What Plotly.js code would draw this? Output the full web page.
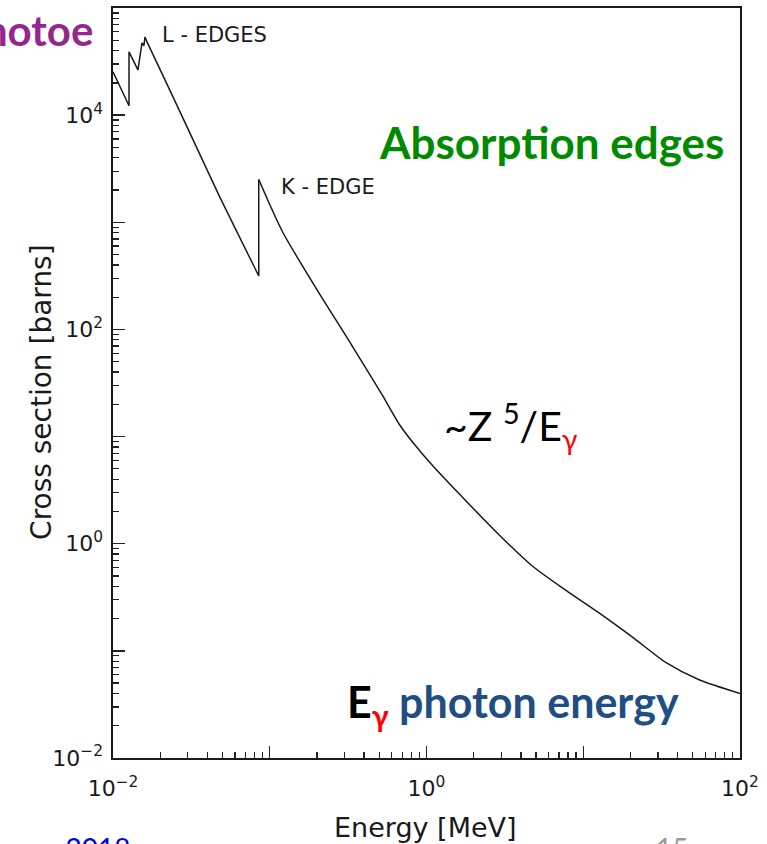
<!DOCTYPE html>
<html>
<head>
<meta charset="utf-8">
<script src="https://cdn.plot.ly/plotly-3.0.1.min.js"></script>
<style>
html,body{margin:0;padding:0;background:#fff;}
#chart{width:767px;height:844px;}
</style>
</head>
<body>
<div id="chart"></div>
<script>
// Photoelectric cross section: L-edge region up to the K-edge jump
const energyBelowK = [0.01, 0.01265, 0.01265, 0.01443, 0.01531, 0.01575, 0.0160, 0.01648, 0.02377, 0.0481, 0.0851, 0.0851];
const sigmaBelowK  = [25400, 12240, 39000, 26500, 47200, 44400, 53700, 48300, 15520, 1710, 315, 2510];
// above the K-edge (smooth part)
const energyAboveK = [0.0851, 0.1211, 0.199, 0.3234, 0.525, 0.673, 0.839, 1.092, 1.80, 2.92, 4.73, 7.80, 12.6, 20.5, 33.8, 54.8, 100];
const sigmaAboveK  = [2510, 807, 238, 76.6, 24.1, 12.9, 8.43, 5.37, 2.48, 1.20, 0.62, 0.365, 0.226, 0.135, 0.0776, 0.0537, 0.04];

const xTickVals = [0.01, 1, 100];
const xTickText = ['10<sup>−2</sup>', '10<sup>0</sup>', '10<sup>2</sup>'];
const yTickVals = [0.01, 1, 100, 10000];
const yTickText = ['10<sup>−2</sup>', '10<sup>0</sup>', '10<sup>2</sup>', '10<sup>4</sup>'];
const xDecades = [0.01, 0.1, 1, 10, 100];
const yDecades = [0.01, 0.1, 1, 10, 100, 1000, 10000, 100000];
const xTitle = 'Energy [MeV]';
const yTitle = 'Cross section [barns]';

function minorTicks(lo, hi) {
  const out = [];
  for (let d = lo; d < hi; d++) {
    for (let m = 2; m <= 9; m++) out.push(m * Math.pow(10, d));
  }
  return out;
}
const xMinor = minorTicks(-2, 2);
const yMinor = minorTicks(-2, 5);

const FONT = 'DejaVu Sans, Liberation Sans, sans-serif';
const INK = '#1a1a1a';
const traces = [
  {x: energyBelowK, y: sigmaBelowK, type: 'scatter', mode: 'lines',
   line: {color: INK, width: 1.5}, hoverinfo: 'skip', showlegend: false},
  {x: energyAboveK, y: sigmaAboveK, type: 'scatter', mode: 'lines',
   line: {color: INK, width: 1.5, shape: 'spline', smoothing: 0.7}, hoverinfo: 'skip', showlegend: false},
  // invisible traces carrying the extra tick axes
  {x: [0.01], y: [1], xaxis: 'x2', yaxis: 'y2', mode: 'markers', marker: {opacity: 0}, showlegend: false, hoverinfo: 'skip'},
  {x: [0.01], y: [1], xaxis: 'x3', yaxis: 'y3', mode: 'markers', marker: {opacity: 0}, showlegend: false, hoverinfo: 'skip'}
];

const xr = [-2, 2], yr = [-2, 5];
const tickAxis = (vals, len, range, extra) => Object.assign({
  type: 'log', range: range, tickmode: 'array', tickvals: vals, ticks: 'inside',
  ticklen: len, tickwidth: 1.3, tickcolor: '#222', showticklabels: false,
  showgrid: false, zeroline: false, showline: false, fixedrange: true
}, extra);

const layout = {
  width: 767, height: 844,
  margin: {l: 113, r: 27, t: 8, b: 86},
  paper_bgcolor: '#fff', plot_bgcolor: '#fff',
  font: {family: FONT, color: INK},
  xaxis: {
    type: 'log', range: xr, tickmode: 'array', tickvals: xTickVals, ticktext: xTickText,
    ticks: '', ticklabelstandoff: 10, showgrid: false, zeroline: false,
    showline: true, linecolor: INK, linewidth: 1.6, mirror: true,
    tickfont: {size: 22, family: FONT, color: INK}
  },
  yaxis: {
    type: 'log', range: yr, tickmode: 'array', tickvals: yTickVals, ticktext: yTickText,
    ticks: '', ticklabelstandoff: 4, showgrid: false, zeroline: false,
    showline: true, linecolor: INK, linewidth: 1.6, mirror: true,
    tickfont: {size: 22, family: FONT, color: INK}
  },
  xaxis2: tickAxis(xDecades, 12, xr, {overlaying: 'x', anchor: 'y2'}),
  yaxis2: tickAxis(yDecades, 12, yr, {overlaying: 'y', anchor: 'x2'}),
  xaxis3: tickAxis(xMinor, 6, xr, {overlaying: 'x', anchor: 'y3'}),
  yaxis3: tickAxis(yMinor, 6, yr, {overlaying: 'y', anchor: 'x3'}),
  annotations: [
    // axis titles
    {xref: 'paper', yref: 'paper', x: 0.498, y: -0.093, xanchor: 'center', yanchor: 'middle', showarrow: false,
     text: xTitle, font: {size: 27, family: FONT, color: INK}},
    {xref: 'paper', yref: 'paper', x: -0.115, y: 0.488, xanchor: 'center', yanchor: 'middle', showarrow: false,
     textangle: -90, text: yTitle, font: {size: 28, family: FONT, color: INK}},
    // plot labels
    {xref: 'paper', yref: 'paper', x: 0.075, y: 0.964, xanchor: 'left', yanchor: 'middle', showarrow: false,
     text: 'L - EDGES', font: {size: 21, family: FONT, color: INK}},
    {xref: 'paper', yref: 'paper', x: 0.265, y: 0.761, xanchor: 'left', yanchor: 'middle', showarrow: false,
     text: 'K - EDGE', font: {size: 21, family: FONT, color: INK}},
    {xref: 'paper', yref: 'paper', x: 0.699, y: 0.821, xanchor: 'center', yanchor: 'middle', showarrow: false,
     text: '<b>Absorption edges</b>', font: {size: 44, family: 'Lato, sans-serif', color: '#008a00'}},
    {xref: 'paper', yref: 'paper', x: 0.525, y: 0.443, xanchor: 'left', yanchor: 'middle', showarrow: false,
     text: '~Z <sup>5</sup>/E<sub><span style="color:#ff0000">γ</span></sub>', font: {size: 41, family: 'Lato, sans-serif', color: '#000'}},
    {xref: 'paper', yref: 'paper', x: 0.370, y: 0.072, xanchor: 'left', yanchor: 'middle', showarrow: false,
     text: '<b>E<sub><span style="color:#ff0000">γ</span></sub> <span style="color:#1f4e82">photon energy</span></b>', font: {size: 43, family: 'Lato, sans-serif', color: '#000'}},
    {xref: 'paper', yref: 'paper', x: -0.029, y: 0.971, xanchor: 'right', yanchor: 'middle', showarrow: false,
     text: '<b>Photoe</b>', font: {size: 42, family: 'Lato, sans-serif', color: '#93268f'}},
    // slide remnants cut by the bottom edge
    {xref: 'paper', yref: 'paper', x: 0.032, y: -0.095, xanchor: 'right', yanchor: 'top', showarrow: false,
     text: 'er 2018', font: {size: 28, family: 'Lato, sans-serif', color: '#0000ee'}},
    {xref: 'paper', yref: 'paper', x: 0.92, y: -0.095, xanchor: 'right', yanchor: 'top', showarrow: false,
     text: '15', font: {size: 28, family: 'Lato, sans-serif', color: '#999'}}
  ]
};

Plotly.newPlot('chart', traces, layout, {staticPlot: true, displayModeBar: false});
</script>
</body>
</html>
